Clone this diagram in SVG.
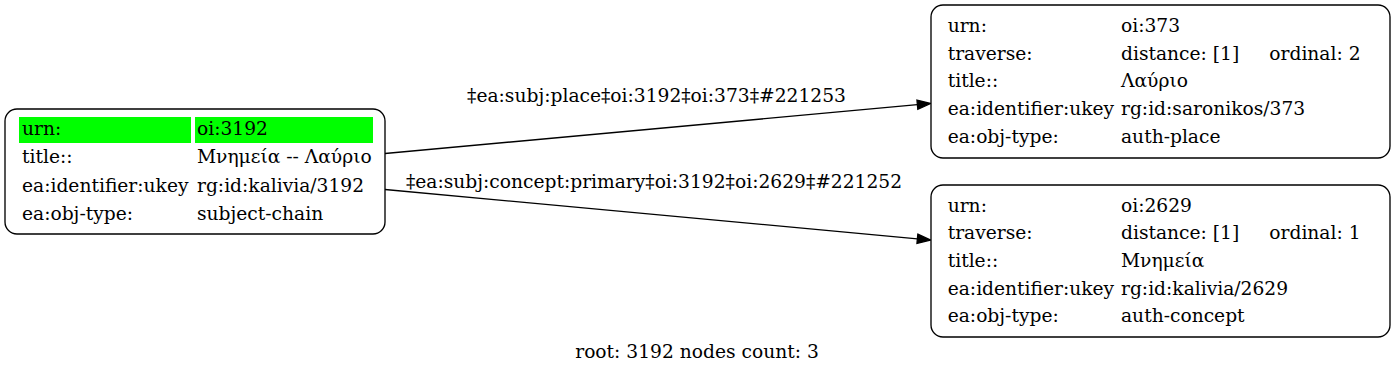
<svg xmlns="http://www.w3.org/2000/svg" width="1395" height="375" viewBox="0 0 1395 375">
<style>
text{font-family:"DejaVu Serif","Liberation Serif",serif;font-size:18.67px;fill:#000}
.box{fill:#fff;stroke:#000;stroke-width:1.33}
.edge{fill:none;stroke:#000;stroke-width:1.33}
.hl{fill:#00ff00}
.mid{text-anchor:middle}
</style>
<defs>
<marker id="arr" markerUnits="userSpaceOnUse" viewBox="0 0 13.33 9.33" refX="0" refY="4.67" markerWidth="13.33" markerHeight="9.33" orient="auto" overflow="visible">
<path d="M0,0 L13.33,4.67 L0,9.33 z" fill="#000" stroke="#000" stroke-width="1.33"/>
</marker>
</defs>
<rect width="1395" height="375" fill="#fff"/>
<g id="edges">
<path class="edge" d="M385,153.5 L917.4,104.7" marker-end="url(#arr)"/>
<text class="mid" x="656.5" y="102">‡ea:subj:place‡oi:3192‡oi:373‡#221253</text>
<path class="edge" d="M385,189.5 L917.4,238.8" marker-end="url(#arr)"/>
<text class="mid" x="654" y="188.3">‡ea:subj:concept:primary‡oi:3192‡oi:2629‡#221252</text>
</g>
<g id="node-3192">
<rect class="box" x="5" y="109" width="380" height="125" rx="12" ry="12"/>
<rect class="hl" x="19" y="117" width="172" height="26"/>
<rect class="hl" x="195" y="117" width="178" height="26"/>
<text x="22" y="135">urn:</text><text x="197" y="135">oi:3192</text>
<text x="22" y="163.3">title::</text><text x="197" y="163.3">Μνημεία -- Λαύριο</text>
<text x="22" y="191.5">ea:identifier:ukey</text><text x="197" y="191.5">rg:id:kalivia/3192</text>
<text x="22" y="219.5">ea:obj-type:</text><text x="197" y="219.5">subject-chain</text>
</g>
<g id="node-373">
<rect class="box" x="931" y="5" width="459" height="153" rx="12" ry="12"/>
<text x="947.7" y="32">urn:</text><text x="1121" y="32">oi:373</text>
<text x="947.7" y="59.5">traverse:</text><text x="1121" y="59.5">distance: [1]</text><text x="1269.3" y="59.5">ordinal: 2</text>
<text x="947.7" y="87.3">title::</text><text x="1121" y="87.3">Λαύριο</text>
<text x="947.7" y="115">ea:identifier:ukey</text><text x="1121" y="115">rg:id:saronikos/373</text>
<text x="947.7" y="142.7">ea:obj-type:</text><text x="1121" y="142.7">auth-place</text>
</g>
<g id="node-2629">
<rect class="box" x="931" y="185" width="459" height="152" rx="12" ry="12"/>
<text x="947.7" y="211.7">urn:</text><text x="1121" y="211.7">oi:2629</text>
<text x="947.7" y="239.4">traverse:</text><text x="1121" y="239.4">distance: [1]</text><text x="1269.3" y="239.4">ordinal: 1</text>
<text x="947.7" y="267">title::</text><text x="1121" y="267">Μνημεία</text>
<text x="947.7" y="294.7">ea:identifier:ukey</text><text x="1121" y="294.7">rg:id:kalivia/2629</text>
<text x="947.7" y="322.4">ea:obj-type:</text><text x="1121" y="322.4">auth-concept</text>
</g>
<text class="mid" x="697" y="358.4">root: 3192 nodes count: 3</text>
</svg>
